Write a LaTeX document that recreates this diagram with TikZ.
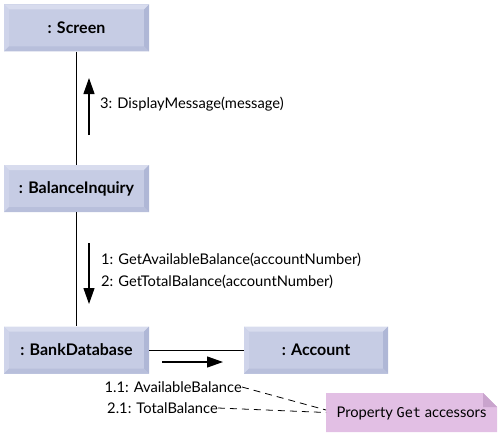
\documentclass[tikz,border=0pt]{standalone}
\usepackage{fontspec}
\setmainfont{Lato}
\setmonofont{DejaVu Sans Mono}
\usetikzlibrary{arrows.meta}
\definecolor{boxfill}{HTML}{C6CCE4}
\definecolor{bvtop}{HTML}{D8DCEE}
\definecolor{bvleft}{HTML}{CFD4EA}
\definecolor{bvright}{HTML}{AFB7D6}
\definecolor{bvbot}{HTML}{B8BFDB}
\definecolor{notefill}{HTML}{E2BFE4}
\definecolor{notefold}{HTML}{C9A4CD}
\begin{document}
\begin{tikzpicture}[x=1pt,y=-1pt,
  obj/.style={minimum width=145pt, minimum height=47pt, inner sep=0pt, fill=boxfill,
    font=\bfseries\fontsize{16}{19}\selectfont,
    path picture={
      \coordinate (nw) at (path picture bounding box.north west);
      \coordinate (ne) at (path picture bounding box.north east);
      \coordinate (sw) at (path picture bounding box.south west);
      \coordinate (se) at (path picture bounding box.south east);
      \fill[bvtop] (nw) -- (ne) -- ([shift={(-5pt,-5pt)}]ne) -- ([shift={(5pt,-5pt)}]nw) -- cycle;
      \fill[bvleft] (nw) -- (sw) -- ([shift={(5pt,5pt)}]sw) -- ([shift={(5pt,-5pt)}]nw) -- cycle;
      \fill[bvright] (ne) -- (se) -- ([shift={(-5pt,5pt)}]se) -- ([shift={(-5pt,-5pt)}]ne) -- cycle;
      \fill[bvbot] (sw) -- (se) -- ([shift={(-5pt,5pt)}]se) -- ([shift={(5pt,5pt)}]sw) -- cycle;
    }},
  conn/.style={line width=0.9pt},
  msg/.style={line width=1.2pt, -{Triangle[length=16pt,width=11pt]}},
  lbl/.style={font=\fontsize{14.7}{17.5}\selectfont, inner sep=0pt},
  note/.style={dashed, line width=0.8pt, dash pattern=on 7pt off 5pt}
]
\useasboundingbox (0,0) rectangle (500,436);
% objects
\node[obj] (scr) at (76.5,28) {: Screen};
\node[obj] (bi) at (76.5,188.5) {: BalanceInquiry};
\node[obj] (bd) at (76.5,350) {: BankDatabase};
\node[obj, minimum width=144pt] (acc) at (316,350) {: Account};
% links
\draw[conn] (scr) -- (bi);
\draw[conn] (bi) -- (bd);
\draw[conn] (bd) -- (acc);
% messages
\coordinate (m3s) at (89,135);
\coordinate (m3e) at (89,78);
\draw[msg] (m3s) -- (m3e);
\node[lbl, anchor=west] (t3) at (100,104) {3: DisplayMessage(message)};
\coordinate (m1s) at (89,243);
\coordinate (m1e) at (89,304);
\draw[msg] (m1s) -- (m1e);
\node[lbl, anchor=west] (t1) at (101,260) {1: GetAvailableBalance(accountNumber)};
\node[lbl, anchor=west] (t2) at (101,282) {2: GetTotalBalance(accountNumber)};
\coordinate (m4s) at (162,362);
\coordinate (m4e) at (223,362);
\draw[msg] (m4s) -- (m4e);
\node[lbl, anchor=east] (t11) at (242,387) {1.1: AvailableBalance};
\node[lbl, anchor=east] (t21) at (218,408) {2.1: TotalBalance};
% note
\fill[notefill] (326,393) -- (483,393) -- (497,407) -- (497,432) -- (326,432) -- cycle;
\fill[notefold] (483,393) -- (497,407) -- (483,407) -- cycle;
\node[lbl, anchor=center] (nt) at (411.5,413) {Property {\ttfamily\fontsize{13.5}{16}\selectfont Get} accessors};
\coordinate (n1) at (326,410);
\coordinate (n2) at (326,412.5);
\draw[note] (t11.east) -- (n1);
\draw[note] (t21.east) -- (n2);
\end{tikzpicture}
\end{document}
